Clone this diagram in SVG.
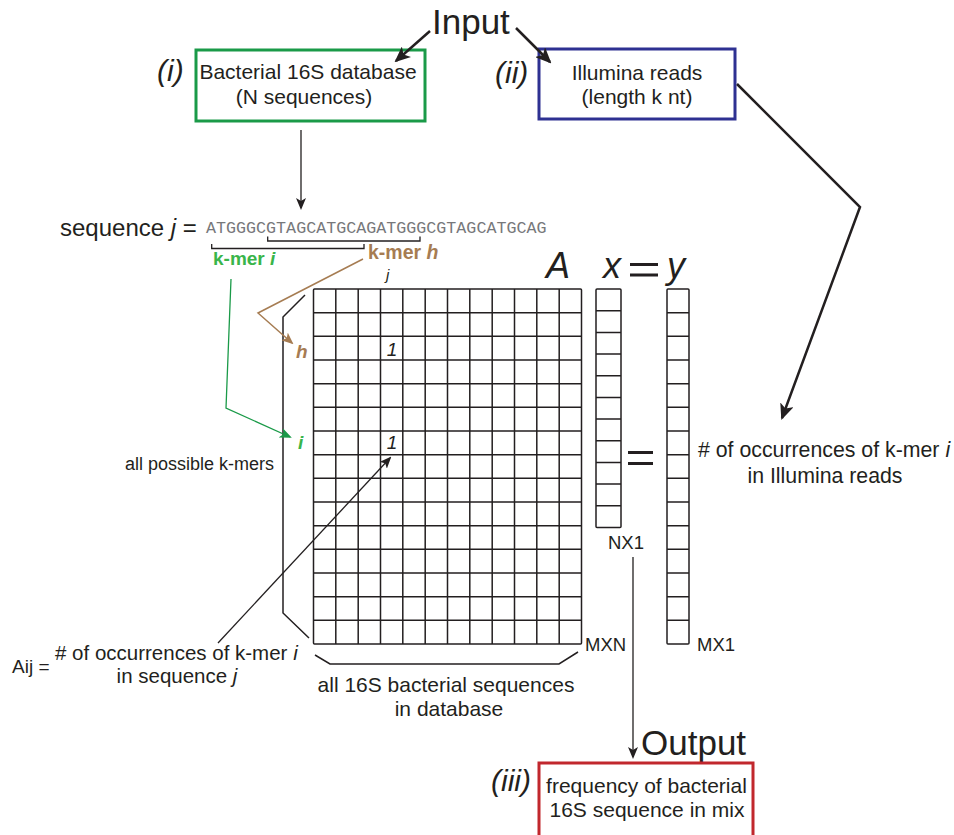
<svg xmlns="http://www.w3.org/2000/svg" width="954" height="835" viewBox="0 0 954 835">
<style>
text{font-family:"Liberation Sans",Arial,sans-serif;fill:#231f20}
.it{font-style:italic}
.big{font-size:35px}
.box{font-size:21px}
.rn{font-size:30px;font-style:italic}
.dim{font-size:18.5px}
.grid{fill:none;stroke:#231f20;stroke-width:1.5}
.k{fill:none;stroke:#231f20}
</style>
<defs>
<marker id="ah" markerWidth="12" markerHeight="10" refX="10" refY="5" orient="auto" markerUnits="userSpaceOnUse" viewBox="0 0 12 10"><path d="M0,0 L12,5 L0,10 L3,5 z" fill="#231f20"/></marker>
<marker id="ahb" markerWidth="16" markerHeight="14" refX="14" refY="7" orient="auto" markerUnits="userSpaceOnUse" viewBox="0 0 16 14"><path d="M0,0 L16,7 L0,14 L4,7 z" fill="#231f20"/></marker>
<marker id="ahbr" markerWidth="12" markerHeight="10" refX="10" refY="5" orient="auto" markerUnits="userSpaceOnUse" viewBox="0 0 12 10"><path d="M0,0 L12,5 L0,10 L3,5 z" fill="#a67c52"/></marker>
<marker id="ahg" markerWidth="12" markerHeight="10" refX="10" refY="5" orient="auto" markerUnits="userSpaceOnUse" viewBox="0 0 12 10"><path d="M0,0 L12,5 L0,10 L3,5 z" fill="#1a9a48"/></marker>
</defs>

<g id="input-label"><text x="432" y="34" class="big">Input</text></g>

<g id="box-i">
<rect x="196" y="50" width="229" height="71" fill="#fff" stroke="#1a9a48" stroke-width="3"/>
<text x="157" y="81" class="rn">(i)</text>
<text x="308" y="79" class="box" text-anchor="middle">Bacterial 16S database</text>
<text x="304" y="104" class="box" text-anchor="middle">(N sequences)</text>
</g>

<g id="box-ii">
<rect x="539" y="49" width="196" height="70" fill="#fff" stroke="#2e3192" stroke-width="3"/>
<text x="495" y="83" class="rn">(ii)</text>
<text x="637" y="80" class="box" text-anchor="middle">Illumina reads</text>
<text x="637" y="104" class="box" text-anchor="middle">(length k nt)</text>
</g>

<g id="sequence">
<text x="60" y="236" font-size="24">sequence <tspan class="it">j</tspan> =</text>
<text x="206" y="233" style="font-family:'Liberation Mono','Courier New',monospace;font-size:16.7px;fill:#77787b">ATGGGCGTAGCATGCAGATGGGCGTAGCATGCAG</text>
<path d="M211.7,244 V248.5 H364 V244" class="k" stroke-width="1.3"/>
<path d="M267.7,236.5 V241 H420 V236.5" class="k" stroke-width="1.3"/>
<text x="213" y="265" font-size="19" font-weight="bold" style="fill:#39b54a">k-mer <tspan class="it">i</tspan></text>
<text x="368" y="259" font-size="19.5" font-weight="bold" style="fill:#a67c52">k-mer <tspan class="it">h</tspan></text>
</g>

<g id="matrix-A">
<text x="546" y="278" class="it" font-size="36">A</text>
<text x="386" y="280" class="it" font-size="15">j</text>
<rect x="313.5" y="289" width="268" height="355" class="grid" rx="1"/>
<path class="grid" d="M335.8,289V644M358.2,289V644M380.5,289V644M402.8,289V644M425.2,289V644M447.5,289V644M469.8,289V644M492.2,289V644M514.5,289V644M536.8,289V644M559.2,289V644
M313.5,312.7H581.5M313.5,336.3H581.5M313.5,360H581.5M313.5,383.7H581.5M313.5,407.3H581.5M313.5,431H581.5M313.5,454.7H581.5M313.5,478.3H581.5M313.5,502H581.5M313.5,525.7H581.5M313.5,549.3H581.5M313.5,573H581.5M313.5,596.7H581.5M313.5,620.3H581.5"/>
<text x="392" y="356" class="it" font-size="19" text-anchor="middle">1</text>
<text x="392" y="449" class="it" font-size="19" text-anchor="middle">1</text>
<text x="296" y="358" class="it" font-size="19" font-weight="bold" style="fill:#a67c52">h</text>
<text x="298" y="449" class="it" font-size="19" font-weight="bold" style="fill:#39b54a">i</text>
<text x="585" y="651" class="dim">MXN</text>
<path d="M305,295 L283,317 V613 L309,638" class="k" stroke-width="1.5"/>
<path d="M315,655 L330,664 H559 L578,652" class="k" stroke-width="1.5"/>
<text x="274" y="470" font-size="18" text-anchor="end">all possible k-mers</text>
<text x="446" y="692" font-size="21" text-anchor="middle">all 16S bacterial sequences</text>
<text x="449" y="716" font-size="21" text-anchor="middle">in database</text>
</g>

<g id="vector-x">
<text x="603" y="278" class="it" font-size="36">x</text>
<rect x="596" y="289" width="25" height="238.5" class="grid" rx="1"/>
<path class="grid" d="M596,310.7H621M596,332.4H621M596,354H621M596,375.7H621M596,397.4H621M596,419.1H621M596,440.8H621M596,462.4H621M596,484.1H621M596,505.8H621"/>
<text x="608" y="549" class="dim">NX1</text>
</g>

<g id="equals">
<path d="M630,264.5H658M630,275H658" stroke="#231f20" stroke-width="3"/>
<path d="M628,452.5H653M628,463.5H653" stroke="#231f20" stroke-width="3"/>
</g>

<g id="vector-y">
<text x="667" y="278" class="it" font-size="36">y</text>
<rect x="667" y="289" width="22" height="355" class="grid" rx="1"/>
<path class="grid" d="M667,312.7H689M667,336.3H689M667,360H689M667,383.7H689M667,407.3H689M667,431H689M667,454.7H689M667,478.3H689M667,502H689M667,525.7H689M667,549.3H689M667,573H689M667,596.7H689M667,620.3H689"/>
<text x="697" y="651" class="dim">MX1</text>
<text x="698" y="457" font-size="21.3"># of occurrences of k-mer <tspan class="it">i</tspan></text>
<text x="825" y="483" font-size="21.3" text-anchor="middle">in Illumina reads</text>
</g>

<g id="aij-label">
<text x="12" y="673" font-size="19">Aij =</text>
<text x="55" y="660" font-size="20.5"># of occurrences of k-mer <tspan class="it">i</tspan></text>
<text x="177" y="683" font-size="20.5" text-anchor="middle">in sequence <tspan class="it">j</tspan></text>
</g>

<g id="output">
<text x="641" y="755" class="big">Output</text>
<rect x="539" y="763" width="214" height="90" fill="none" stroke="#c1272d" stroke-width="3"/>
<text x="491" y="791" class="rn">(iii)</text>
<text x="646.5" y="793" font-size="21" text-anchor="middle">frequency of bacterial</text>
<text x="647" y="817" font-size="21" text-anchor="middle">16S sequence in mix</text>
</g>

<g id="connectors">
<path d="M430,31 L396,61" class="k" stroke-width="2.5" marker-end="url(#ahb)"/>
<path d="M516,28 L550,62" class="k" stroke-width="2.5" marker-end="url(#ahb)"/>
<path d="M301,130 V208" class="k" stroke-width="1.3" marker-end="url(#ah)"/>
<path d="M737,84 L860,207 L782,418" class="k" stroke-width="2.5" marker-end="url(#ahb)"/>
<path d="M363,259 L258,313 L292,343" fill="none" stroke="#a67c52" stroke-width="1.5" marker-end="url(#ahbr)"/>
<path d="M231,279 L226,408 L290,437" fill="none" stroke="#1a9a48" stroke-width="1.3" marker-end="url(#ahg)"/>
<path d="M218,643 L390,458" class="k" stroke-width="1.3" marker-end="url(#ah)"/>
<path d="M633,557 V757" class="k" stroke-width="1.3" marker-end="url(#ah)"/>
</g>
</svg>
